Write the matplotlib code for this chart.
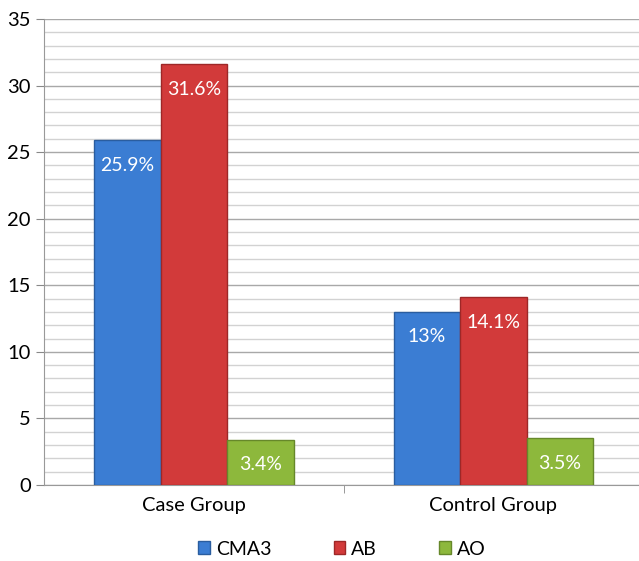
import matplotlib.pyplot as plt
import matplotlib.patches as mpatches
import numpy as np

plt.rcParams['font.family'] = ['Lato', 'DejaVu Sans']

groups = ['Case Group', 'Control Group']
series = ['CMA3', 'AB', 'AO']
cma3 = [25.9, 13]
ab = [31.6, 14.1]
ao = [3.4, 3.5]
labels = [['25.9%', '13%'], ['31.6%', '14.1%'], ['3.4%', '3.5%']]
colors = ['#3b7dd3', '#d23a3a', '#8db83c']
edges = ['#2a5d9f', '#9e2727', '#66882a']

fig = plt.figure(figsize=(6.39, 5.61), dpi=100)
ax = fig.add_axes([0.0689, 0.1355, 0.9374, 0.8307])

x = np.arange(len(groups))
w = 0.222
for i, vals in enumerate([cma3, ab, ao]):
    pos = x + (i - 1) * w
    ax.bar(pos, vals, w, color=colors[i], edgecolor=edges[i], linewidth=1.0,
           zorder=3, label=series[i])
    for p, v, t in zip(pos, vals, labels[i]):
        ax.annotate(t, (p, v), xytext=(0, -18), textcoords='offset points',
                    ha='center', va='center', color='white', fontsize=14,
                    zorder=4)

ax.set_xlim(-0.5, 1.5)
ax.set_ylim(0, 35)
ax.set_yticks(np.arange(0, 36, 5))
ax.set_yticks(np.arange(0, 36, 1), minor=True)
ax.grid(axis='y', which='major', color='#a8a8a8', linewidth=1.0, zorder=0)
ax.grid(axis='y', which='minor', color='#d2d2d2', linewidth=1.0, zorder=0)
ax.tick_params(axis='y', which='major', length=6, color='#888888', labelsize=14.5)
ax.tick_params(axis='y', which='minor', length=0)

ax.set_xticks(x)
ax.set_xticklabels(groups, fontsize=14.5)
ax.tick_params(axis='x', which='major', length=0, pad=9)
ax.set_xticks([0.5], minor=True)
ax.tick_params(axis='x', which='minor', length=6, color='#888888')

for s in ['top', 'right']:
    ax.spines[s].set_visible(False)
ax.spines['left'].set_color('#999999')
ax.spines['bottom'].set_color('#999999')

handles = [mpatches.Patch(facecolor=colors[i], edgecolor=edges[i], label=series[i])
           for i in range(3)]
fig.legend(handles=handles, loc='lower center', ncol=3, frameon=False,
           bbox_to_anchor=(0.535, -0.025), fontsize=14, handlelength=0.6,
           handleheight=0.6, handletextpad=0.3, columnspacing=3.2)

fig.savefig('out.png', dpi=100)
